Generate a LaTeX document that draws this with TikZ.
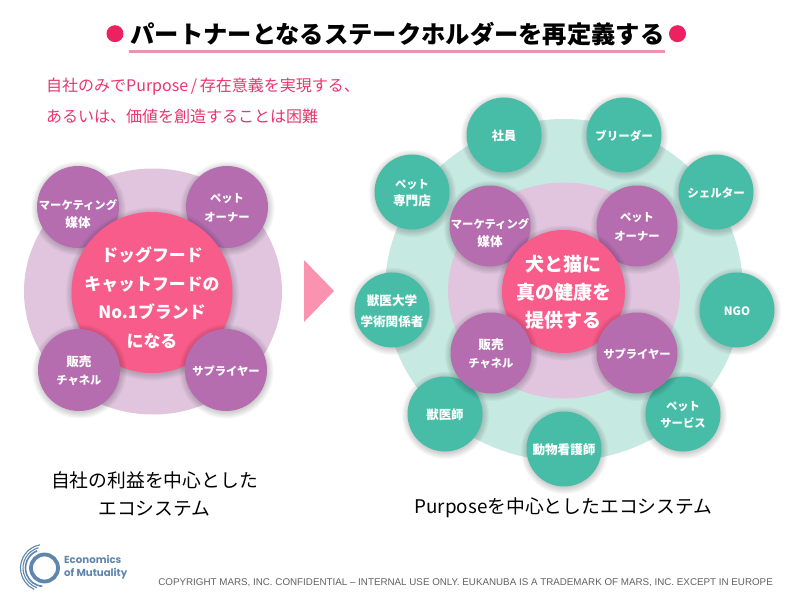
\documentclass[tikz,border=0pt]{standalone}
\usepackage{fontspec}
\setmainfont{Noto Sans CJK JP}
\newfontfamily\latinfont{Liberation Sans}
\newfontfamily\logofont{Poppins}
\usetikzlibrary{arrows.meta,shapes.geometric}
\definecolor{pinkc}{HTML}{F75C8A}
\definecolor{redc}{HTML}{EE2160}
\definecolor{introc}{HTML}{E8376F}
\definecolor{purplec}{HTML}{B56DB0}
\definecolor{tealc}{HTML}{47BDA7}
\definecolor{lilac}{HTML}{E1C5DF}
\definecolor{mint}{HTML}{C6E9E2}
\definecolor{logoc}{HTML}{5F86AE}
\definecolor{linec}{HTML}{EC94AE}
\definecolor{arrowc}{HTML}{FB92B0}
\tikzset{
  jp/.style={inner sep=0pt,align=center},
  dot/.style={circle,fill=redc,minimum size=17pt,inner sep=0pt},
  introtext/.style={jp,anchor=west,text=introc,font=\fontsize{16}{18}\selectfont},
}
% kanji lines are set a little larger than kana lines
\newcommand{\K}[1]{{\fontsize{12.6}{12.6}\selectfont #1}}
% name, x, y(from top), radius, colour, line height, font size, text
\newcommand{\bubble}[8]{%
  \foreach \k in {1,...,8}{\fill[black,opacity=0.024] (#2+0.5,-#3-1.5) circle ({#4+\k*0.9-1});}%
  \node[circle,inner sep=0pt,minimum size={2*#4 pt},fill=#5,
        label={[inner sep=0pt,yshift=-1.2pt,text=white,align=center,font=\bfseries\fontsize{#7}{#6}\selectfont]center:#8}] (#1) at (#2,-#3) {};%
}
\begin{document}
\begin{tikzpicture}[x=1pt,y=1pt]
\useasboundingbox (0,-607) rectangle (793,0);
\fill[white] (0,-607) rectangle (793,0);
% title
\node[dot] (dotl) at (115,-33.7) {};
\node[dot] (dotr) at (677.5,-33.7) {};
\node[jp,font=\bfseries\fontsize{24.3}{26}\selectfont] (title) at (397.5,-34.5) {パートナーとなるステークホルダーを再定義する};
\fill[linec] (129,-53) rectangle (665,-50);
% intro
\node[introtext] (intro1) at (46,-87) {自社のみでPurpose\,/\,存在意義を実現する、};
\node[introtext] (intro2) at (46,-116) {あるいは、価値を創造することは困難};
% left
\fill[lilac] (153,-291.5) ellipse [x radius=129,y radius=123];
\bubble{lm}{78}{207}{41}{purplec}{18}{11.3}{\rule{0pt}{22pt}マーケティング\\\K{媒体}}
\bubble{lp}{227}{207}{41}{purplec}{19}{11.3}{ペット\\オーナー}
\bubble{lc}{152}{292.5}{80.5}{pinkc}{28.5}{16.9}{\rule{0pt}{23pt}ドッグフード\\キャットフードの\\No.1ブランド\\になる}
\bubble{ls}{79}{370}{41}{purplec}{18}{11.3}{\K{販売}\\チャネル}
\bubble{lr}{226}{370}{41}{purplec}{19}{11.3}{サプライヤー}
% arrow
\fill[arrowc] (304,-260) -- (334,-291) -- (304,-322) -- cycle;
% right
\fill[mint] (564,-290) ellipse [x radius=179,y radius=171];
\fill[lilac] (564,-290.5) ellipse [x radius=116,y radius=108];
\bubble{r1}{504}{135}{37.5}{tealc}{19}{12.2}{社員}
\bubble{r2}{624}{135}{37.5}{tealc}{19}{11.5}{ブリーダー}
\bubble{r3}{716}{192}{37.5}{tealc}{19}{11.5}{シェルター}
\bubble{r4}{737}{310}{37.5}{tealc}{19}{11.5}{NGO}
\bubble{r5}{683}{414}{37.5}{tealc}{17}{11.3}{ペット\\サービス}
\bubble{r6}{564}{449}{37.5}{tealc}{19}{12.6}{動物看護師}
\bubble{r7}{445}{414}{37.5}{tealc}{19}{12.4}{獣医師}
\bubble{r8}{392}{310}{37.5}{tealc}{21}{12.6}{獣医大学\\学術関係者}
\bubble{r9}{412}{192}{37.5}{tealc}{17}{11.3}{ペット\\\K{専門店}}
\bubble{pm}{490}{226}{40.5}{purplec}{18}{11.3}{\rule{0pt}{22pt}マーケティング\\\K{媒体}}
\bubble{pp}{637}{226}{40.5}{purplec}{19}{11.3}{ペット\\オーナー}
\bubble{rc}{563.5}{291.5}{61.5}{pinkc}{28}{19}{犬と猫に\\真の健康を\\提供する}
\bubble{ps}{491}{353}{40.5}{purplec}{18}{11.3}{\K{販売}\\チャネル}
\bubble{pr}{637}{353}{40.5}{purplec}{19}{11.3}{サプライヤー}
% captions
\node[jp,font=\fontsize{18.8}{28.5}\selectfont] (capl) at (154.5,-494) {自社の利益を中心とした\\エコシステム};
\node[jp,font=\fontsize{18.8}{20}\selectfont] (capr) at (563.5,-508) {Purposeを中心としたエコシステム};
% logo
\draw[logoc,line width=3.8pt] (44.5,-568) circle (13.5);
\draw[logoc,line width=1.1pt] (44,-568) ++(100:23.5) arc (100:245:23.5);
\draw[logoc,line width=1.1pt] (44,-568) ++(105:21) arc (105:250:21);
\draw[logoc,line width=1.6pt] (44,-568) ++(112:18.5) arc (112:265:18.5);
\node[jp,anchor=west,text=logoc,font=\logofont\bfseries\fontsize{10.2}{12.8}\selectfont,align=left] (logo) at (64,-567) {Economics\\of Mutuality};
% copyright
\node[jp,anchor=east,text=black!62,font=\latinfont\fontsize{9.8}{10}\selectfont] (copy) at (773,-583) {COPYRIGHT MARS, INC. CONFIDENTIAL – INTERNAL USE ONLY. EUKANUBA IS A TRADEMARK OF MARS, INC. EXCEPT IN EUROPE};
\end{tikzpicture}
\end{document}
